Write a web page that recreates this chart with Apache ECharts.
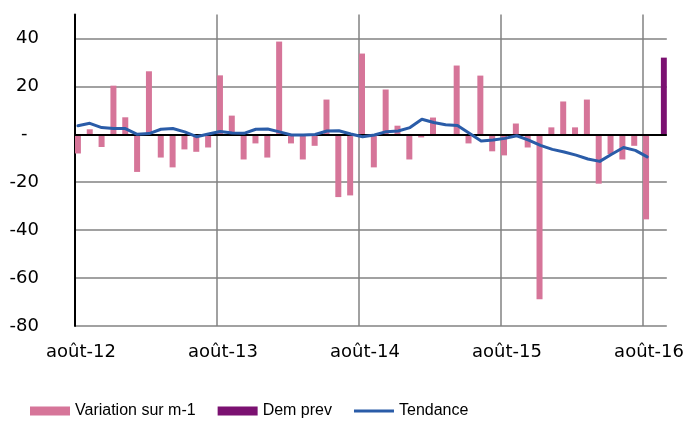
<!DOCTYPE html>
<html>
<head>
<meta charset="utf-8">
<script src="https://cdn.jsdelivr.net/npm/echarts@6/dist/echarts.min.js"></script>
<style>
  html, body { margin: 0; padding: 0; background: #fff; }
  #chart { width: 687px; height: 423px; }
</style>
</head>
<body>
<div id="chart"></div>
<script>
// mois affichés (août-12 -> sept-16)
var moisNoms = ['août', 'sept', 'oct', 'nov', 'déc', 'janv', 'févr', 'mars', 'avr', 'mai', 'juin', 'juil'];
var categories = [];
for (var k = 0; k < 50; k++) {
    var y = 12 + Math.floor((k + 7) / 12);
    categories.push(moisNoms[k % 12] + '-' + y);
}

// variation sur m-1
var variation = [
    -8.0, 2.1, -5.3, 20.3, 7.1, -15.7, 26.3, -9.7, -13.8, -6.3, -7.3, -5.5,
    24.6, 7.8, -10.5, -3.8, -9.7, 38.7, -3.8, -10.5, -4.8, 14.5, -26.2, -25.5,
    33.7, -13.8, 18.7, 3.6, -10.5, -1.3, 7.0, 0, 28.7, -3.8, 24.5, -7.1,
    -8.8, 4.5, -5.5, -68.8, 2.9, 13.7, 2.9, 14.5, -20.6, -8.3, -10.5, -4.8,
    -35.5, null
];

// demande prévue (dernier point)
var demPrev = [
    null, null, null, null, null, null, null, null, null, null, null, null,
    null, null, null, null, null, null, null, null, null, null, null, null,
    null, null, null, null, null, null, null, null, null, null, null, null,
    null, null, null, null, null, null, null, null, null, null, null, null,
    null, 32.0
];

// tendance
var tendance = [
    3.6, 4.6, 2.8, 2.4, 2.4, 0, 0.3, 2.1, 2.4, 1.0, -1.0, 0.1,
    1.2, 0.5, 0.4, 2.1, 2.2, 1.0, -0.3, -0.3, -0.1, 1.4, 1.5, 0.1,
    -1.0, -0.3, 1.1, 1.4, 2.8, 6.3, 4.9, 4.0, 3.7, 0.4, -2.8, -2.4,
    -1.7, -0.6, -2.4, -4.6, -6.3, -7.4, -8.7, -10.3, -11.3, -8.3, -5.5, -6.7,
    -9.4, null
];

var chart = echarts.init(document.getElementById('chart'));
var gris = '#828282';
var police = 'DejaVu Sans';
var bleu = '#2a5ca8';

var option = {
    animation: false,
    legend: {
        left: 25,
        top: 398,
        itemWidth: 40,
        itemHeight: 9,
        itemGap: 22,
        symbolKeepAspect: true,
        textStyle: {
            fontFamily: "'Liberation Sans', Arial",
            fontSize: 16,
            color: '#000'
        },
        data: [
            { name: 'Variation sur m-1', icon: 'rect' },
            { name: 'Dem prev', icon: 'rect' },
            { name: 'Tendance', icon: 'path://M0,0H42V3H0Z' }
        ]
    },
    grid: [
        { left: 75, top: 14.5, width: 593, height: 311.5 },
        { left: 72, top: 14.5, width: 593, height: 311.5 }
    ],
    xAxis: [{
        type: 'category',
        gridIndex: 0,
        data: categories,
        boundaryGap: true,
        axisLine: { show: false },
        axisTick: { show: false },
        axisLabel: {
            interval: 11,
            margin: 17,
            fontFamily: police,
            fontSize: 18,
            color: '#000'
        },
        splitLine: {
            show: true,
            interval: 11,
            showMinLine: false,
            showMaxLine: false,
            lineStyle: { color: gris, width: 1.5 }
        }
    }, {
        type: 'category',
        gridIndex: 1,
        data: categories,
        boundaryGap: true,
        show: false
    }],
    yAxis: [{
        type: 'value',
        gridIndex: 0,
        min: -80,
        max: 50,
        interval: 20,
        axisLine: { show: true, lineStyle: { color: '#000', width: 2 } },
        axisTick: { show: false },
        axisLabel: {
            showMaxLabel: false,
            margin: 36,
            fontFamily: police,
            fontSize: 18,
            color: '#000',
            formatter: function (v) { return v === 0 ? '-  ' : String(v); }
        },
        splitLine: {
            show: true,
            showMaxLine: false,
            lineStyle: { color: gris, width: 1.5 }
        }
    }, {
        type: 'value',
        gridIndex: 1,
        min: -80,
        max: 50,
        show: false,
        splitLine: { show: false }
    }],
    series: [{
        name: 'Variation sur m-1',
        type: 'bar',
        xAxisIndex: 0,
        yAxisIndex: 0,
        data: variation,
        barWidth: 6,
        barGap: '0%',
        itemStyle: { color: '#d67599' },
        markLine: {
            silent: true,
            symbol: 'none',
            label: { show: false },
            lineStyle: { color: '#000', width: 2, type: 'solid' },
            data: [{ yAxis: 0 }]
        }
    }, {
        name: 'Dem prev',
        type: 'bar',
        xAxisIndex: 0,
        yAxisIndex: 0,
        data: demPrev,
        barWidth: 6,
        barGap: '0%',
        itemStyle: { color: '#7b1171' }
    }, {
        name: 'Tendance',
        type: 'line',
        xAxisIndex: 1,
        yAxisIndex: 1,
        data: tendance,
        symbol: 'none',
        z: 5,
        lineStyle: { color: bleu, width: 3, cap: 'round', join: 'round' },
        itemStyle: { color: bleu }
    }]
};

chart.setOption(option);
</script>
</body>
</html>
